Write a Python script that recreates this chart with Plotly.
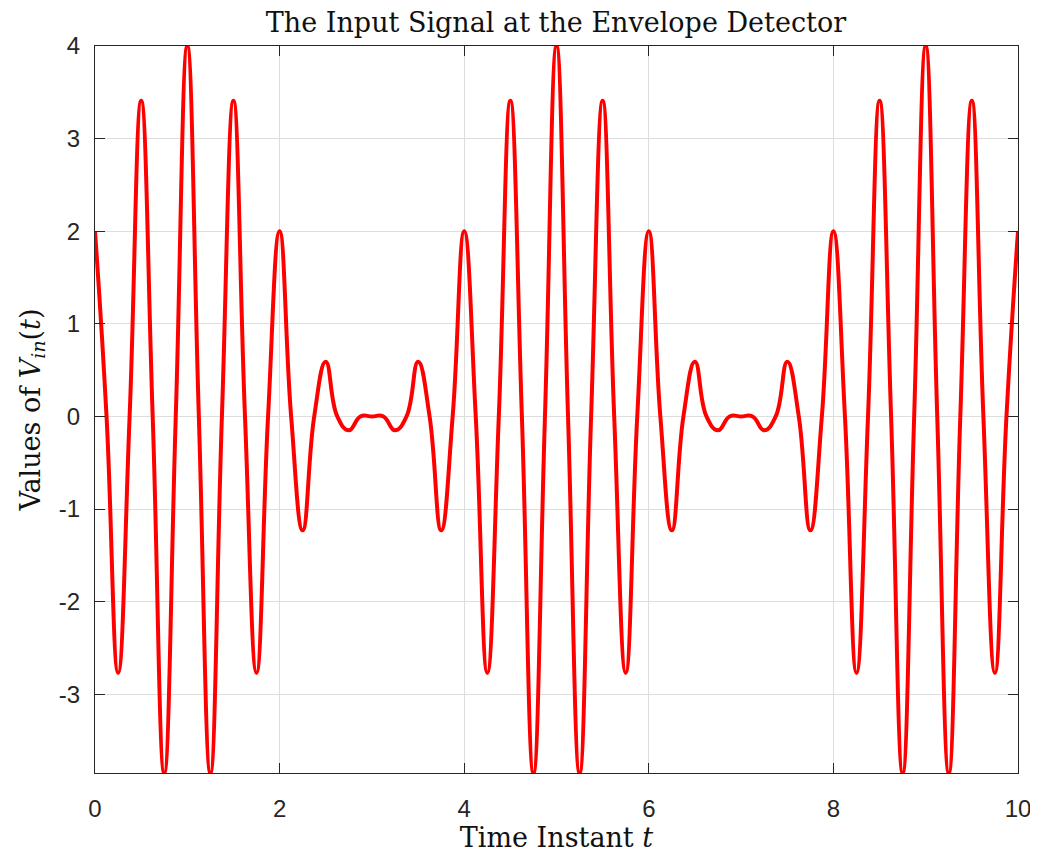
import plotly.graph_objects as go

# Time samples (every 1/8 s): peaks/troughs of the carrier and its zero crossings
t_values = [i / 8 for i in range(81)]

# Extremum values at t = 0, 0.25, 0.5, ... 3.75 (one envelope period)
period_extrema = [2.0, -2.77, 3.41, -3.85, 4.0, -3.85, 3.41, -2.77,
                  2.0, -1.23, 0.59, -0.15, 0.0, -0.15, 0.59, -1.23]
# Full series of extrema over 0..10 s (the pattern repeats every 4 s in the picture)
extrema = period_extrema + period_extrema + period_extrema[:8] + [2.0]
# The curve crosses zero midway between consecutive extrema
v_values = []
for i, e in enumerate(extrema):
    v_values.append(e)
    if i < len(extrema) - 1:
        v_values.append(0.0)

x_ticks = [0, 2, 4, 6, 8, 10]
y_ticks = [-3, -2, -1, 0, 1, 2, 3, 4]

serif = "DejaVu Serif, serif"
sans = "Liberation Sans, Arial, sans-serif"

fig = go.Figure()
fig.add_trace(go.Scatter(
    x=t_values, y=v_values, mode="lines",
    line=dict(color="#ff0000", width=4, shape="spline", smoothing=1.3),
    showlegend=False, hoverinfo="skip",
))

axis_common = dict(
    showline=True, linecolor="#262626", linewidth=1.2, mirror="ticks",
    ticks="inside", ticklen=10, tickcolor="#262626", tickwidth=1.2,
    showgrid=True, gridcolor="#dedede", gridwidth=1, zeroline=False,
    automargin=False,
    tickfont=dict(family=sans, size=24, color="#262626"),
)

fig.update_layout(
    width=1030, height=848,
    paper_bgcolor="white", plot_bgcolor="white",
    margin=dict(l=87, r=20, t=38, b=83),
    title=dict(text="The Input Signal at the Envelope Detector",
               font=dict(family=serif, size=27, color="#111111"),
               x=0.532, xanchor="center", y=0.983, yanchor="middle"),
    xaxis=dict(range=[0, 10], tickvals=x_ticks, ticktext=[str(v) for v in x_ticks],
               ticklabelstandoff=14,
               title=dict(text="Time Instant <i>t</i>", standoff=3,
                          font=dict(family=serif, size=27, color="#111111")),
               **axis_common),
    yaxis=dict(range=[-3.85, 4], tickvals=y_ticks, ticktext=[str(v) for v in y_ticks],
               ticklabelstandoff=9,
               title=dict(text="Values of <i>V</i><sub><i>in</i></sub>(<i>t</i>)", standoff=10,
                          font=dict(family=serif, size=27, color="#111111")),
               **axis_common),
)

fig.write_html("out.html")
